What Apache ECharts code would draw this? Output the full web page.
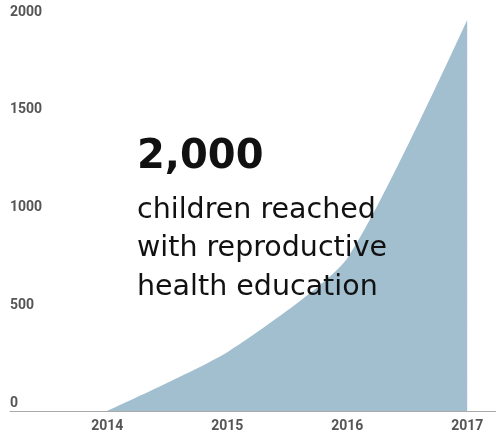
<!DOCTYPE html>
<html>
<head>
<meta charset="utf-8">
<script src="https://cdn.jsdelivr.net/npm/echarts@6/dist/echarts.min.js"></script>
<style>html,body{margin:0;padding:0;background:#fff}#c{width:496px;height:438px}</style>
</head>
<body>
<div id="c"></div>
<script>
var years = [2014, 2015, 2016, 2017];
var values = [0, 300, 780, 2000];
var yTicks = [0, 500, 1000, 1500, 2000];
var headline = '2,000';
var caption = ['children reached', 'with reproductive', 'health education'];

var chart = echarts.init(document.getElementById('c'), null, {renderer: 'canvas'});
chart.setOption({
  animation: false,
  grid: {left: 10, right: 0, top: 20, bottom: 27},
  xAxis: {
    type: 'value',
    min: 2013.19, max: 2017.24,
    axisLine: {show: true, lineStyle: {color: '#aaa', width: 1}},
    axisTick: {show: false},
    splitLine: {show: false},
    axisLabel: {
      customValues: years,
      margin: 8,
      color: '#555', fontFamily: 'Roboto', fontWeight: 'bold', fontSize: 14,
      formatter: function (v) { return String(v); }
    }
  },
  yAxis: {
    type: 'value',
    min: 0, max: 2000, interval: 500,
    axisLine: {show: false},
    axisTick: {show: false},
    splitLine: {show: false},
    axisLabel: {
      inside: true, margin: 0,
      verticalAlign: 'bottom',
      padding: [0, 0, 1, 0],
      color: '#555', fontFamily: 'Roboto', fontWeight: 'bold', fontSize: 14,
      customValues: yTicks,
      formatter: function (v) { return String(v); }
    }
  },
  series: [{
    type: 'line',
    data: years.map(function (y, i) { return [y, values[i]]; }),
    smooth: 0.2,
    symbol: 'none',
    lineStyle: {width: 0},
    areaStyle: {color: '#a2bfd0', opacity: 1},
    z: 1
  }],
  graphic: [
    {type: 'text', left: 137, top: 138, z: 10,
     style: {text: headline, font: 'bold 40px "DejaVu Sans"', fill: '#111'}},
    {type: 'text', left: 137, top: 191, z: 10,
     style: {text: caption.join('\n'), font: '28.5px "DejaVu Sans"', lineHeight: 38.5, fill: '#111'}}
  ]
});
</script>
</body>
</html>
